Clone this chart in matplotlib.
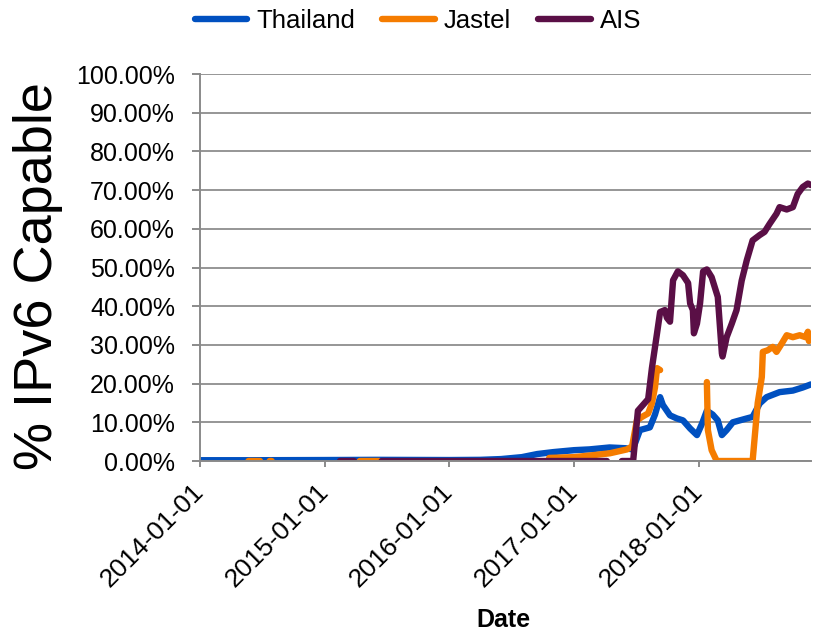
import matplotlib
matplotlib.use("Agg")
import matplotlib.pyplot as plt
import matplotlib.dates as mdates
import numpy as np
import pandas as pd
from matplotlib.ticker import FuncFormatter, MultipleLocator

plt.rcParams["font.family"] = ["Liberation Sans", "DejaVu Sans"]

# values (percent IPv6 capable); NaN = gap in the series
thailand_dates = [
    "2014-01-01", "2014-06-01", "2015-01-01", "2015-06-01", "2016-01-01",
    "2016-04-01", "2016-06-01", "2016-08-01", "2016-09-15", "2016-11-01",
    "2017-01-01", "2017-02-15", "2017-04-15", "2017-06-01", "2017-06-22",
    "2017-07-13", "2017-08-11", "2017-08-26", "2017-09-10", "2017-09-18",
    "2017-10-09", "2017-10-29", "2017-11-16", "2017-12-07", "2017-12-27",
    "2018-01-11", "2018-01-25", "2018-02-11", "2018-02-26", "2018-03-10",
    "2018-03-24", "2018-04-11", "2018-05-22", "2018-06-08", "2018-06-29",
    "2018-07-19", "2018-08-26", "2018-10-04", "2018-11-02", "2018-11-26",
]
thailand_vals = [
    0.2, 0.2, 0.25, 0.3, 0.25,
    0.3, 0.5, 1.0, 1.8, 2.3,
    2.8, 3.0, 3.5, 3.3, 3.0,
    8.0, 8.7, 12.0, 16.5, 14.5,
    11.8, 11.0, 10.5, 8.4, 6.7,
    9.7, 13.0, 12.0, 10.5, 6.7,
    8.0, 10.0, 11.0, 11.4, 14.9,
    16.5, 17.8, 18.2, 19.0, 19.8,
]

jastel_dates = [
    "2014-05-23", "2014-06-26", "2014-06-27",
    "2014-07-24", "2014-07-30", "2014-07-31",
    "2015-04-14", "2015-06-11", "2015-06-12",
    "2016-10-20", "2017-01-01", "2017-02-25", "2017-04-16", "2017-06-05",
    "2017-06-20", "2017-07-04", "2017-07-19", "2017-08-06", "2017-08-17",
    "2017-08-26", "2017-09-01", "2017-09-10", "2017-09-11",
    "2018-01-25", "2018-01-28", "2018-02-08", "2018-02-23", "2018-06-08",
    "2018-06-23", "2018-07-05", "2018-07-08", "2018-07-22", "2018-08-06",
    "2018-08-17", "2018-09-01", "2018-09-16", "2018-10-04", "2018-10-24",
    "2018-11-10", "2018-11-17", "2018-11-20",
]
jastel_vals = [
    0.0, 0.0, np.nan,
    0.0, 0.0, np.nan,
    0.0, 0.0, np.nan,
    0.8, 1.0, 1.5, 2.0, 3.0,
    3.8, 10.5, 11.4, 12.3, 14.9,
    19.0, 24.0, 23.5, np.nan,
    20.4, 8.0, 2.8, 0.0, 0.0,
    15.0, 21.7, 28.2, 28.6, 29.5,
    28.2, 30.3, 32.5, 32.0, 32.5,
    32.0, 33.4, 31.0,
]

ais_dates = [
    "2015-02-15", "2015-03-28", "2015-03-29",
    "2015-06-17", "2017-04-07", "2017-04-08",
    "2017-05-21", "2017-06-23", "2017-07-07", "2017-07-22", "2017-08-06",
    "2017-08-17", "2017-09-01", "2017-09-10", "2017-09-24", "2017-09-30",
    "2017-10-09", "2017-10-18", "2017-11-01", "2017-11-16", "2017-12-01",
    "2017-12-07", "2017-12-15", "2017-12-18", "2017-12-27", "2018-01-05",
    "2018-01-14", "2018-01-25", "2018-02-08", "2018-02-26", "2018-03-10",
    "2018-03-12", "2018-03-24", "2018-04-08", "2018-04-22", "2018-05-07",
    "2018-05-22", "2018-06-08", "2018-06-29", "2018-07-13", "2018-07-28",
    "2018-08-17", "2018-08-26", "2018-09-16", "2018-10-04", "2018-10-18",
    "2018-11-02", "2018-11-17", "2018-11-26",
]
ais_vals = [
    0.0, 0.0, np.nan,
    0.0, 0.0, np.nan,
    0.0, 0.0, 13.0, 14.5, 16.0,
    24.0, 33.0, 38.5, 39.0, 37.0,
    36.0, 46.7, 49.0, 48.0, 46.0,
    40.7, 39.0, 33.0, 35.5, 40.7,
    49.0, 49.5, 47.5, 42.4, 27.8,
    27.0, 32.0, 35.5, 39.0, 46.6,
    51.9, 57.0, 58.4, 59.2, 61.3,
    63.9, 65.6, 65.0, 65.6, 69.0,
    70.8, 71.7, 71.3,
]

series = [
    ("Thailand", thailand_dates, thailand_vals, "#0050c0"),
    ("Jastel", jastel_dates, jastel_vals, "#f57c00"),
    ("AIS", ais_dates, ais_vals, "#5a0f46"),
]

fig = plt.figure(figsize=(8.13, 6.31), dpi=100)
ax = fig.add_axes([0.246, 0.2694, 0.7515, 0.6133])

for name, dates, vals, color in series:
    ax.plot(pd.to_datetime(dates), vals, color=color, lw=4.6,
            solid_capstyle="round", solid_joinstyle="round", label=name)

ax.set_xlim(pd.Timestamp("2014-01-01"), pd.Timestamp("2018-11-26"))
ax.set_ylim(0, 100)
ax.yaxis.set_major_locator(MultipleLocator(10))
ax.yaxis.set_major_formatter(FuncFormatter(lambda v, _: f"{v:.2f}%"))
ax.xaxis.set_major_locator(mdates.YearLocator())
ax.xaxis.set_major_formatter(mdates.DateFormatter("%Y-%m-%d"))

ax.grid(axis="y", color="#969696", lw=1.4)
ax.set_axisbelow(True)
for s in ("top", "right"):
    ax.spines[s].set_visible(False)
for s in ("left", "bottom"):
    ax.spines[s].set_color("#8a8a8a")
    ax.spines[s].set_linewidth(1.4)
ax.tick_params(axis="both", direction="out", width=1.4, color="#8a8a8a")
ax.tick_params(axis="y", length=6, pad=12, labelsize=18)
ax.tick_params(axis="x", length=4, pad=15, labelsize=19)
for lbl in ax.get_xticklabels():
    lbl.set_rotation(45)
    lbl.set_ha("right")
    lbl.set_va("center")
    lbl.set_rotation_mode("anchor")

ax.set_ylabel("% IPv6 Capable", fontsize=39)
ax.yaxis.set_label_coords(-0.224, 0.478)
ax.set_xlabel("Date", fontsize=18, fontweight="bold")
ax.xaxis.set_label_coords(0.497, -0.38)

fig.legend(loc="upper center", bbox_to_anchor=(0.514, 1.022), ncol=3, frameon=False,
           fontsize=18.5, handlelength=2.05, handletextpad=0.35, columnspacing=1.05)

fig.savefig("out.png", dpi=100)
